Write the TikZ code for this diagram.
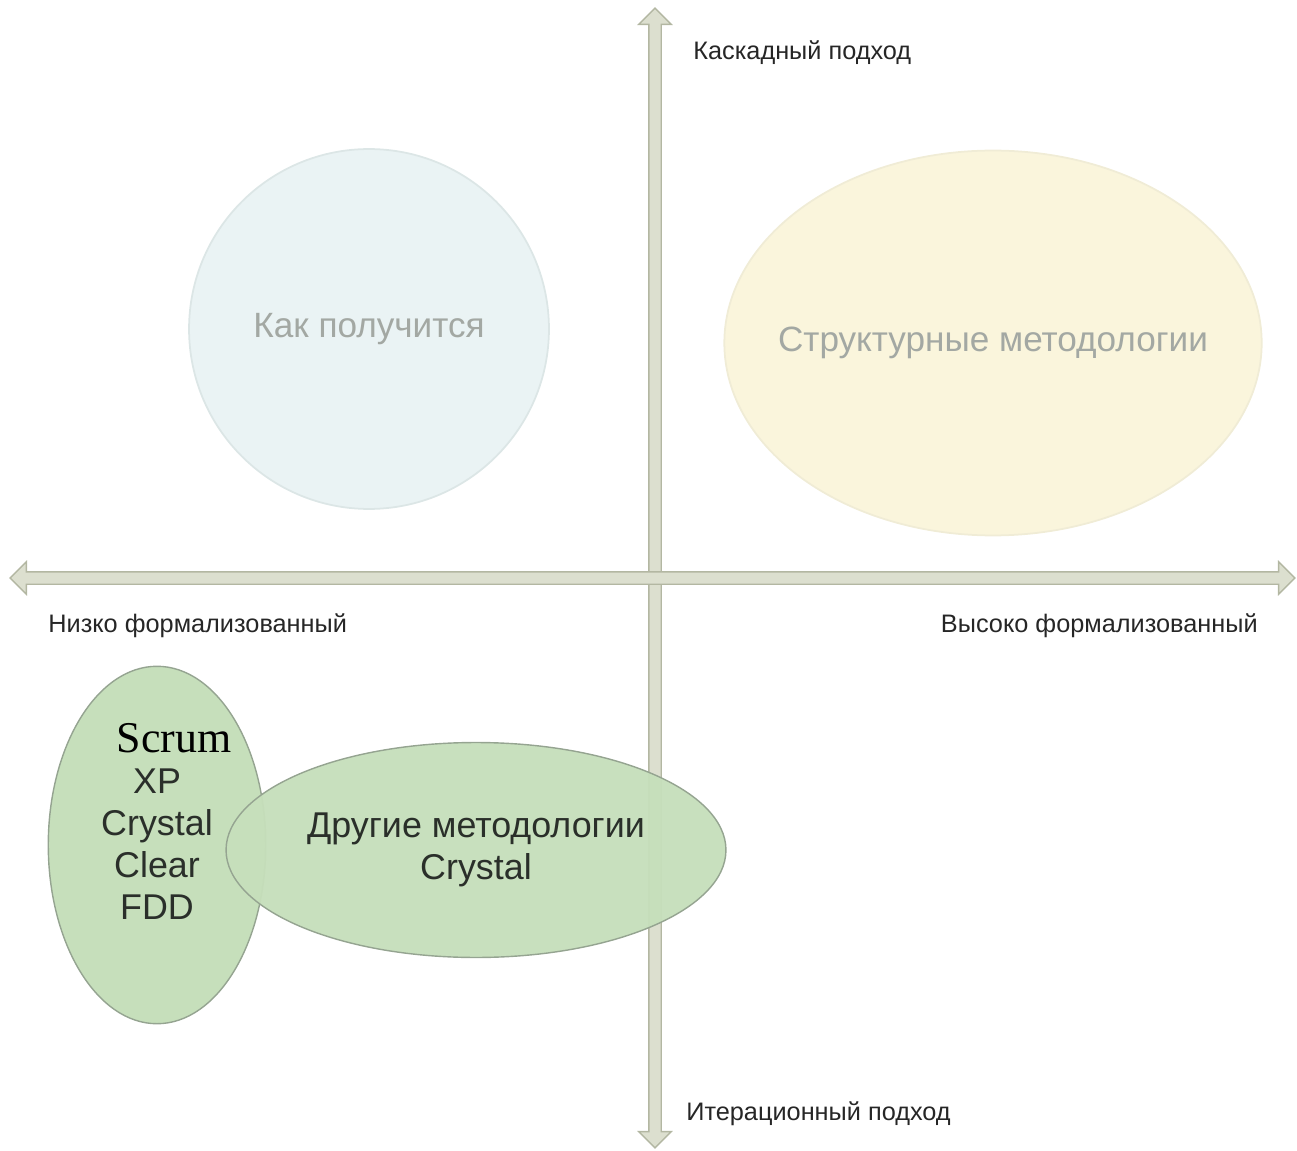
\documentclass[tikz,border=0pt]{standalone}
\usepackage{fontspec}
\setmainfont{Liberation Sans}
\newfontfamily\scrumfont{Liberation Serif}
\usepackage{tikz}
\usetikzlibrary{positioning, shapes.geometric, shapes.arrows}

\definecolor{axisfill}{HTML}{DCDFCF}
\definecolor{axisedge}{HTML}{B3B7A2}
\definecolor{greenfill}{HTML}{C6DFBB}
\definecolor{greenedge}{HTML}{95A491}
\definecolor{bluefill}{HTML}{EAF3F4}
\definecolor{blueedge}{HTML}{DCE6E6}
\definecolor{yellowfill}{HTML}{FAF5DC}
\definecolor{yellowedge}{HTML}{F0ECD6}
\definecolor{fadedtext}{HTML}{A3A8A3}
\definecolor{darktext}{HTML}{2A2F2A}

\begin{document}
\begin{tikzpicture}[x=0.02cm, y=-0.02cm,
    axis/.style={double arrow, draw=axisedge, fill=axisfill, line width=0.8pt,
                 inner sep=0.11cm, double arrow head extend=0.2cm, minimum width=0pt},
    faded/.style={ellipse, line width=1pt, font=\fontsize{20}{24}\selectfont, text=fadedtext},
    agile/.style={ellipse, draw=greenedge, fill=greenfill, line width=0.8pt,
                  font=\fontsize{20.4}{23.8}\selectfont, text=darktext, align=center},
    axislabel/.style={font=\fontsize{14.4}{16}\selectfont, text=black!85, inner sep=0pt}
]
    \useasboundingbox (0,0) rectangle (1297,1151);

    % Axes
    \node[axis, minimum height=22.8cm, rotate=90] (vaxis) at (655,578) {};
    \node[axis, minimum height=25.7cm] (haxis) at (652.5,578) {};

    % Upper quadrants
    \node[faded, draw=blueedge, fill=bluefill, minimum width=7.2cm, minimum height=7.2cm]
        (chaos) at (369,329) {Как получится};
    \node[faded, draw=yellowedge, fill=yellowfill, minimum width=10.75cm, minimum height=7.7cm]
        (struct) at (993,343) {};
    \node[faded, inner sep=0pt] (structtext) at (struct.center) {Структурные методологии};

    % Lower left: agile methods
    \node[agile, minimum width=4.35cm, minimum height=7.15cm] (agileleft) at (157,845) {};
    \node[agile, fill opacity=0.96, text opacity=1, minimum width=10cm, minimum height=4.3cm]
        (agileright) at (476,850) {Другие методологии\\Crystal};
    \node[font=\scrumfont\fontsize{25}{28}\selectfont, inner sep=0pt] (scrum) at (174,738) {Scrum};
    \node[agile, draw=none, fill=none, shape=rectangle, inner sep=0pt] (agilelist) at (157,844)
        {XP\\Crystal\\Clear\\FDD};

    % Axis labels
    \node[axislabel, anchor=west] (waterfall) at (693,53) {Каскадный подход};
    \node[axislabel, anchor=west] (lowformal) at (48,626) {Низко формализованный};
    \node[axislabel, anchor=east] (highformal) at (1258,626) {Высоко формализованный};
    \node[axislabel, anchor=west] (iterative) at (686,1114) {Итерационный подход};
\end{tikzpicture}
\end{document}
